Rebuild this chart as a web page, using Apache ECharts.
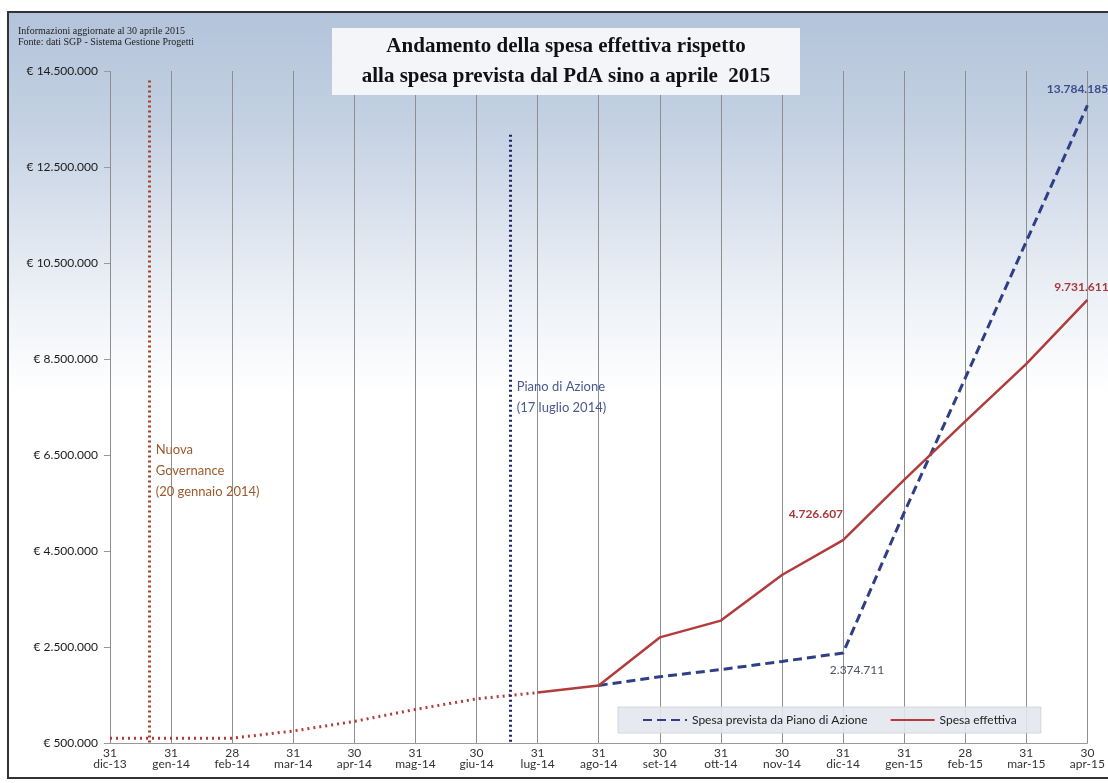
<!DOCTYPE html>
<html lang="it">
<head>
    <meta charset="UTF-8">
    <title>Andamento della spesa</title>
    <script src="https://cdn.jsdelivr.net/npm/echarts@6.0.0/dist/echarts.min.js"></script>
    <style>
        html, body { margin: 0; padding: 0; background: #fff; }
        #chart { width: 1108px; height: 783px; }
    </style>
</head>
<body>
<div id="chart"></div>
<script>
    // etichette asse X (giorno + mese)
    var giorni = ['31', '31', '28', '31', '30', '31', '30', '31', '31', '30', '31', '30', '31', '31', '28', '31', '30'];
    var mesi = ['dic-13', 'gen-14', 'feb-14', 'mar-14', 'apr-14', 'mag-14', 'giu-14', 'lug-14', 'ago-14',
        'set-14', 'ott-14', 'nov-14', 'dic-14', 'gen-15', 'feb-15', 'mar-15', 'apr-15'];

    // spesa prima del PdA (tratto punteggiato)
    var spesaAnte = [600000, 600000, 600000, 750000, 950000, 1200000, 1420000, 1550000,
        null, null, null, null, null, null, null, null, null];
    // spesa effettiva
    var spesaEffettiva = [null, null, null, null, null, null, null, 1550000, 1700000,
        2700000, 3050000, 4000000, 4726607, 5980000, 7200000, 8400000, 9731611];
    // spesa prevista da Piano di Azione
    var spesaPrevista = [null, null, null, null, null, null, null, null, 1700000,
        1880000, 2030000, 2200000, 2374711, 5300000, 8100000, 10950000, 13784185];

    // tick asse Y
    var yMin = 500000, yMax = 14500000, yStep = 2000000;

    // eventi (posizione in mesi dall'inizio)
    var eventi = [
        {pos: 0.65, top: 14300000, testo: 'Nuova\nGovernance\n(20 gennaio 2014)', yTesto: 6170000, colore: '#a0442c', testoColore: '#9b5b2e'},
        {pos: 6.56, top: 13170000, testo: 'Piano di Azione\n(17 luglio 2014)', yTesto: 7710000, colore: '#1b2468', testoColore: '#4a5a8e'}
    ];

    function euro(v) {
        return String(v).replace(/\B(?=(\d{3})+(?!\d))/g, '.');
    }

    function coppie(arr, etichette) {
        var out = [];
        for (var i = 0; i < arr.length; i++) {
            if (arr[i] === null) continue;
            var item = {value: [i, arr[i]]};
            if (etichette && etichette[i]) item.label = etichette[i];
            out.push(item);
        }
        return out;
    }

    function fmt(p) { return euro(p.value[1]); }

    var rosso = '#b23c3b';
    var blu = '#2f3f86';

    var labEffettiva = {};
    labEffettiva[12] = {show: true, position: 'left', distance: 0, offset: [0, -26], color: '#a8383a', fontWeight: 'bold', fontSize: 12, formatter: fmt};
    labEffettiva[16] = {show: true, position: 'top', distance: 7, offset: [-6, 0], color: '#a8383a', fontWeight: 'bold', fontSize: 12, formatter: fmt};

    var labPrevista = {};
    labPrevista[12] = {show: true, position: 'bottom', distance: 7, offset: [14, 4], color: '#4c5166', fontSize: 12, formatter: fmt};
    labPrevista[16] = {show: true, position: 'top', distance: 4, offset: [-10, -6], color: '#3b4f8a', fontWeight: 'bold', fontSize: 12, formatter: fmt};

    var markLinee = [];
    var markTesti = [];
    for (var k = 0; k < eventi.length; k++) {
        var e = eventi[k];
        markLinee.push([
            {coord: [e.pos, e.top], lineStyle: {color: e.colore, type: [2, 3], width: 3}},
            {coord: [e.pos, yMin]}
        ]);
        markTesti.push({
            coord: [e.pos, e.yTesto],
            symbolSize: 0,
            label: {show: true, position: 'right', distance: 6, align: 'left', color: e.testoColore,
                fontSize: 13, lineHeight: 21, fontFamily: 'Lato', formatter: e.testo}
        });
    }

    var myChart = echarts.init(document.getElementById('chart'));
    myChart.setOption({
        backgroundColor: '#ffffff',
        animation: false,
        textStyle: {fontFamily: 'Lato'},
        graphic: [
            {   // sfondo sfumato con cornice
                type: 'rect', z: -100, silent: true,
                shape: {x: 8, y: 12, width: 1110, height: 766},
                style: {
                    fill: new echarts.graphic.LinearGradient(0, 0, 0, 1, [
                        {offset: 0, color: '#b3c3da'},
                        {offset: 0.14, color: '#c3d0e2'},
                        {offset: 0.38, color: '#eef2f7'},
                        {offset: 0.5, color: '#ffffff'},
                        {offset: 1, color: '#ffffff'}
                    ]),
                    stroke: '#333', lineWidth: 2
                }
            },
            {
                type: 'text', left: 18, top: 26, z: 100,
                style: {text: 'Informazioni aggiornate al 30 aprile 2015\nFonte: dati SGP - Sistema Gestione Progetti',
                    font: '10px "Liberation Serif"', lineHeight: 11, fill: '#222'}
            },
            {   // box del titolo
                type: 'rect', z: 100, silent: true,
                shape: {x: 332, y: 28, width: 468, height: 67},
                style: {fill: '#f3f5f8'}
            },
            {
                type: 'text', z: 101, x: 566, y: 62,
                style: {text: 'Andamento della spesa effettiva rispetto\nalla spesa prevista dal PdA sino a aprile  2015',
                    font: 'bold 21px "Liberation Serif"', lineHeight: 30, fill: '#111',
                    align: 'center', verticalAlign: 'middle'}
            }
        ],
        legend: {
            left: 618, top: 707,
            padding: [7, 24, 7, 24],
            itemGap: 22, itemWidth: 44, itemHeight: 10,
            backgroundColor: 'rgba(228,231,238,0.9)',
            borderColor: '#d2d6de', borderWidth: 1,
            itemStyle: {opacity: 0},
            textStyle: {fontSize: 12, color: '#222', fontFamily: 'Lato'},
            data: ['Spesa prevista da Piano di Azione', 'Spesa effettiva']
        },
        grid: {left: 110, right: 20, top: 71, bottom: 40},
        xAxis: {
            type: 'value', min: 0, max: mesi.length - 1, interval: 1,
            axisLine: {show: true, lineStyle: {color: '#9a9a9a'}},
            axisTick: {show: false},
            splitLine: {show: true, lineStyle: {color: '#8e8e8e', width: 1}},
            axisLabel: {
                showMinLabel: true, showMaxLabel: true,
                margin: 5, fontSize: 12, lineHeight: 11, color: '#333',
                formatter: function (v) { return giorni[v] + '\n' + mesi[v]; }
            }
        },
        yAxis: {
            type: 'value', min: yMin, max: yMax, interval: yStep,
            axisLine: {show: false},
            axisTick: {show: true, length: 6, lineStyle: {color: '#999'}},
            splitLine: {show: false},
            axisLabel: {
                margin: 12, fontSize: 12, color: '#1a1a1a',
                formatter: function (v) { return '€ ' + euro(v); }
            }
        },
        series: [
            {
                name: 'ante', type: 'line', symbol: 'none', z: 3,
                lineStyle: {color: rosso, width: 3, type: [2, 4]},
                data: coppie(spesaAnte),
                markLine: {symbol: 'none', silent: true, label: {show: false}, data: markLinee},
                markPoint: {symbol: 'circle', silent: true, itemStyle: {color: 'transparent'}, data: markTesti}
            },
            {
                name: 'Spesa prevista da Piano di Azione', type: 'line', z: 4,
                symbol: 'circle', symbolSize: 0, showSymbol: true,
                itemStyle: {color: blu},
                lineStyle: {color: blu, width: 3, type: [9, 5]},
                data: coppie(spesaPrevista, labPrevista)
            },
            {
                name: 'Spesa effettiva', type: 'line', z: 5,
                symbol: 'circle', symbolSize: 0, showSymbol: true,
                itemStyle: {color: rosso},
                lineStyle: {color: rosso, width: 2.5},
                data: coppie(spesaEffettiva, labEffettiva)
            }
        ]
    });
</script>
</body>
</html>
